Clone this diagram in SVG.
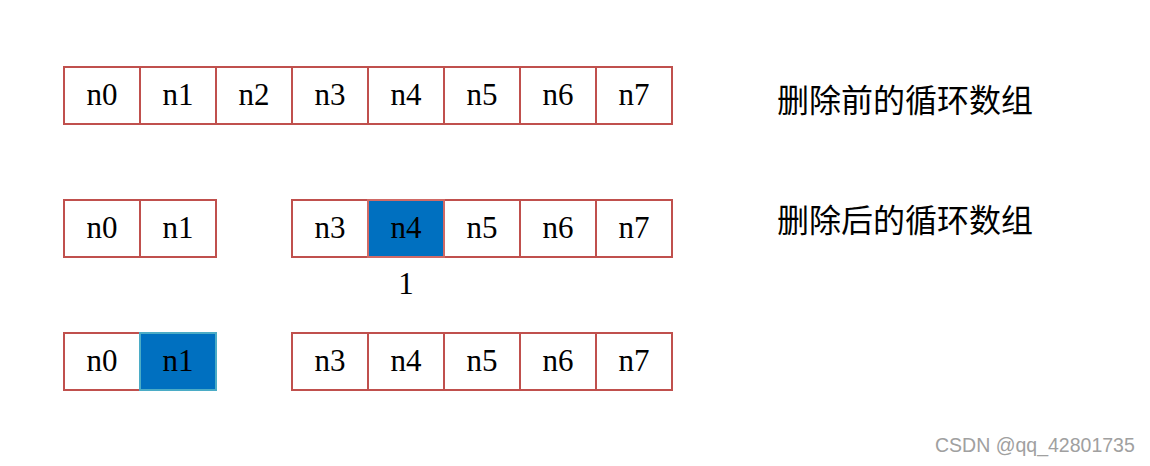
<svg xmlns="http://www.w3.org/2000/svg" width="1150" height="466" viewBox="0 0 1150 466">
<style>
.c{fill:#fff;stroke:#c0504d;stroke-width:2}
.h{fill:#0070c0;stroke:#d06a66;stroke-width:2}
.h2{fill:#0070c0;stroke:#4bacc6;stroke-width:2}
.t{font-family:"Liberation Serif","DejaVu Serif",serif;font-size:31px;fill:#000;text-anchor:middle}
.z{font-family:"Noto Sans CJK SC",sans-serif;font-size:32px;fill:#000}
.w{font-family:"Liberation Sans",Arial,sans-serif;font-size:19.5px;fill:#a0a0a0}
</style>
<g id="row1">
<g id="r1n0"><rect class="c" x="64" y="67" width="76" height="57"/><text class="t" x="102" y="105">n0</text></g>
<g id="r1n1"><rect class="c" x="140" y="67" width="76" height="57"/><text class="t" x="178" y="105">n1</text></g>
<g id="r1n2"><rect class="c" x="216" y="67" width="76" height="57"/><text class="t" x="254" y="105">n2</text></g>
<g id="r1n3"><rect class="c" x="292" y="67" width="76" height="57"/><text class="t" x="330" y="105">n3</text></g>
<g id="r1n4"><rect class="c" x="368" y="67" width="76" height="57"/><text class="t" x="406" y="105">n4</text></g>
<g id="r1n5"><rect class="c" x="444" y="67" width="76" height="57"/><text class="t" x="482" y="105">n5</text></g>
<g id="r1n6"><rect class="c" x="520" y="67" width="76" height="57"/><text class="t" x="558" y="105">n6</text></g>
<g id="r1n7"><rect class="c" x="596" y="67" width="76" height="57"/><text class="t" x="634" y="105">n7</text></g>
</g>
<g id="row2">
<g id="r2n0"><rect class="c" x="64" y="200" width="76" height="57"/><text class="t" x="102" y="238">n0</text></g>
<g id="r2n1"><rect class="c" x="140" y="200" width="76" height="57"/><text class="t" x="178" y="238">n1</text></g>
<g id="r2n3"><rect class="c" x="292" y="200" width="76" height="57"/><text class="t" x="330" y="238">n3</text></g>
<g id="r2n5"><rect class="c" x="444" y="200" width="76" height="57"/><text class="t" x="482" y="238">n5</text></g>
<g id="r2n6"><rect class="c" x="520" y="200" width="76" height="57"/><text class="t" x="558" y="238">n6</text></g>
<g id="r2n7"><rect class="c" x="596" y="200" width="76" height="57"/><text class="t" x="634" y="238">n7</text></g>
<g id="r2n4"><rect class="h" x="368" y="200" width="76" height="57"/><text class="t" x="406" y="238">n4</text></g>
</g>
<g id="row3">
<g id="r3n0"><rect class="c" x="64" y="333" width="76" height="57"/><text class="t" x="102" y="371">n0</text></g>
<g id="r3n3"><rect class="c" x="292" y="333" width="76" height="57"/><text class="t" x="330" y="371">n3</text></g>
<g id="r3n4"><rect class="c" x="368" y="333" width="76" height="57"/><text class="t" x="406" y="371">n4</text></g>
<g id="r3n5"><rect class="c" x="444" y="333" width="76" height="57"/><text class="t" x="482" y="371">n5</text></g>
<g id="r3n6"><rect class="c" x="520" y="333" width="76" height="57"/><text class="t" x="558" y="371">n6</text></g>
<g id="r3n7"><rect class="c" x="596" y="333" width="76" height="57"/><text class="t" x="634" y="371">n7</text></g>
<g id="r3n1"><rect class="h2" x="140" y="333" width="76" height="57"/><text class="t" x="178" y="371">n1</text></g>
</g>
<g id="labels">
<text class="t" x="406" y="294">1</text>
<text class="z" x="777" y="112">删除前的循环数组</text>
<text class="z" x="777" y="232">删除后的循环数组</text>
<text class="w" x="935" y="452">CSDN @qq_42801735</text>
</g>
<g id="connectors"></g>
</svg>
